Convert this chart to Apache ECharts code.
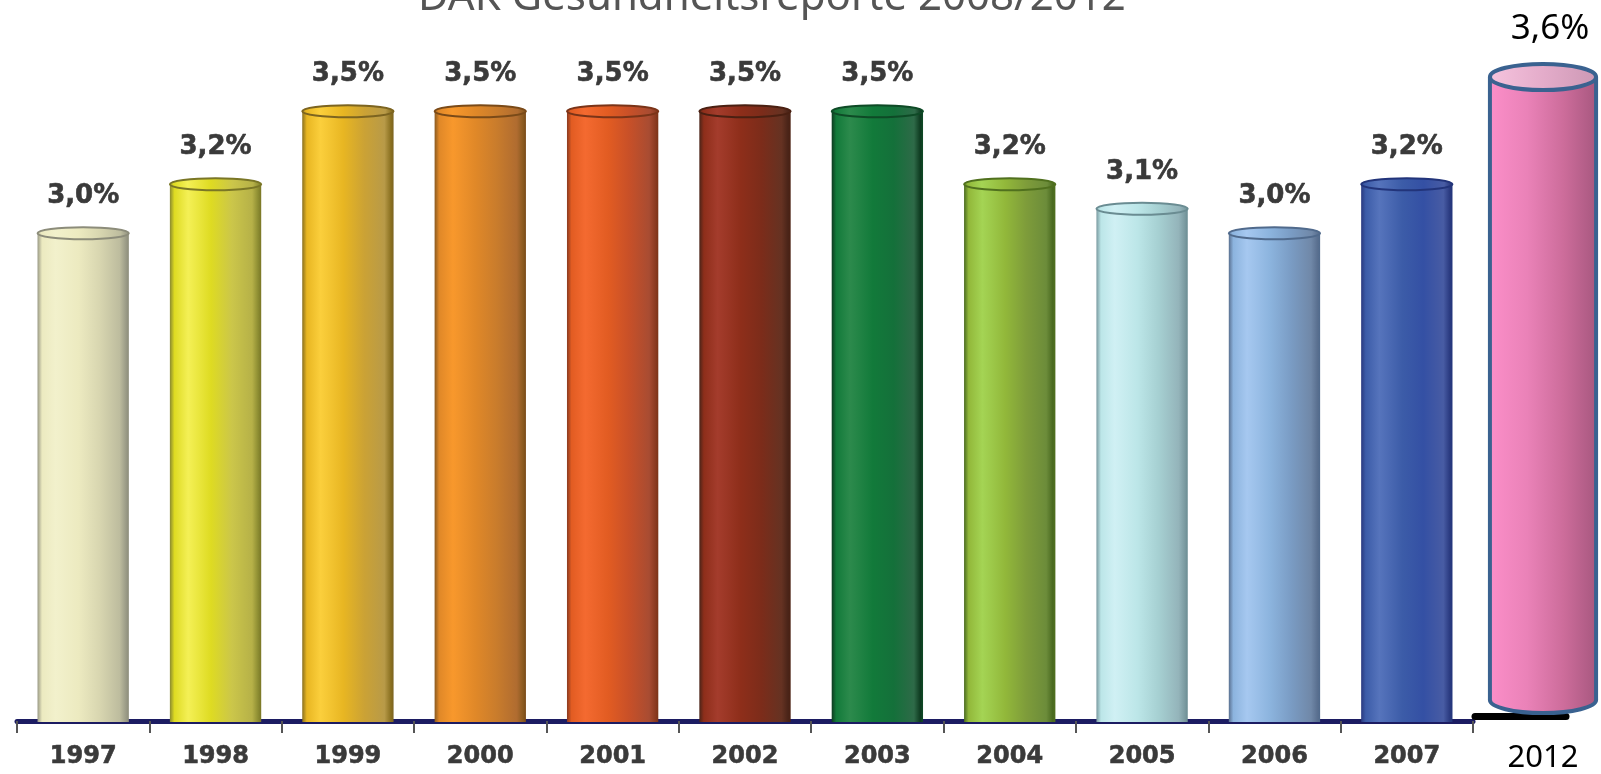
<!DOCTYPE html>
<html>
<head>
<meta charset="utf-8">
<script src="https://cdn.jsdelivr.net/npm/echarts@6/dist/echarts.min.js"></script>
<style>
html,body{margin:0;padding:0;background:#ffffff;}
#chart{width:1601px;height:774px;}
</style>
</head>
<body>
<div id="chart"></div>
<script>
// ---- data ----
const titleText = 'DAK Gesundheitsreporte 2008/2012';
const categories = ['1997','1998','1999','2000','2001','2002','2003','2004','2005','2006','2007'];
const values = [3.0, 3.2, 3.5, 3.5, 3.5, 3.5, 3.5, 3.2, 3.1, 3.0, 3.2];
const extraCategories = ['2012'];
const extraValues = [3.6];

// ---- styles ----
// each: [edge, light, main, mid, dark, rim]
const palettes = [
  ['#9a9a86','#f2f1cc','#eceac0','#d8d6b0','#bdbc9e','#8c8c7a'],
  ['#8a8a30','#f4f056','#dedb22','#cbc64a','#b6b148','#7a7626'],
  ['#8a7020','#fbcf3c','#e8b622','#cba235','#b89a48','#7c6420'],
  ['#8a5a20','#f8982c','#e08828','#c97c2c','#b06c30','#7a4a18'],
  ['#8a3a20','#f46a30','#e25c22','#c85028','#a84c32','#7a3418'],
  ['#4a2418','#a43c2c','#8e2e1a','#7c2c1a','#653222','#4a2012'],
  ['#0e3a20','#2c8a4c','#127a3a','#14703a','#2e6a48','#0e4a26'],
  ['#4a6a20','#a4d454','#92b83a','#7e9c3a','#6c8c3a','#50701e'],
  ['#7a9aa0','#d0f0f4','#bce6e8','#a6d0d2','#94b4ba','#6a8c92'],
  ['#5a7090','#a6c8f0','#8cb4de','#7a9cc4','#7088a8','#506a8c'],
  ['#2a3a80','#5674bc','#3c5ca8','#3450a4','#485ca4','#22347a']
];
const labelColor = '#3a3a3a';
const mainFont = '"DejaVu Sans", "Liberation Sans", Arial, sans-serif';
const officeFont = '"Noto Sans", "Open Sans", sans-serif';
const yMin = 1;

function fmt(v){ return v.toFixed(1).replace('.', ',') + '%'; }

function hGrad(p){
  return {type:'linear', x:0, y:0, x2:1, y2:0, colorStops:[
    {offset:0, color:p[0]},
    {offset:0.05, color:p[2]},
    {offset:0.2, color:p[1]},
    {offset:0.45, color:p[2]},
    {offset:0.68, color:p[3]},
    {offset:0.9, color:p[4]},
    {offset:0.97, color:p[0]},
    {offset:1, color:p[5]}
  ]};
}

function renderMain(params, api){
  const i = api.value(0), v = api.value(1);
  const top = api.coord([i, v]);
  const base = api.coord([i, yMin]);
  const w = api.size([1, 0])[0] * 0.69;
  const p = palettes[params.dataIndex];
  return {type:'group', children:[
    {type:'rect', shape:{x:top[0]-w/2, y:top[1], width:w, height:base[1]-top[1]+1},
      style:{fill:hGrad(p)}},
    {type:'ellipse', shape:{cx:top[0], cy:top[1], rx:w/2, ry:6},
      style:{fill:hGrad(p), stroke:p[5], lineWidth:2}},
    {type:'text', x:top[0], y:top[1]-37,
      style:{text:fmt(v), font:'bold 26px ' + mainFont, fill:labelColor, align:'center', verticalAlign:'middle',
        stroke:labelColor, lineWidth:0.6}}
  ]};
}

function renderExtra(params, api){
  const i = api.value(0), v = api.value(1);
  const top = api.coord([i, v]);
  const base = api.coord([i, yMin]);
  const w = api.size([1, 0])[0] * 0.965;
  const rx = w/2, ry = 13;
  const border = '#3a6290';
  const body = {type:'linear', x:0, y:0, x2:1, y2:0, colorStops:[
    {offset:0, color:'#fb8ec8'},{offset:0.35, color:'#ea82b8'},
    {offset:0.7, color:'#cc6c9a'},{offset:1, color:'#a85880'}]};
  const cap = {type:'linear', x:0, y:0, x2:1, y2:0, colorStops:[
    {offset:0, color:'#f6c4de'},{offset:0.5, color:'#e4acca'},{offset:1, color:'#cc98b4'}]};
  return {type:'group', children:[
    {type:'ellipse', shape:{cx:top[0], cy:base[1], rx:rx, ry:ry}, style:{fill:body, stroke:border, lineWidth:4}},
    {type:'rect', shape:{x:top[0]-rx, y:top[1], width:w, height:base[1]-top[1]}, style:{fill:body}},
    {type:'line', shape:{x1:top[0]-rx, y1:top[1], x2:top[0]-rx, y2:base[1]}, style:{stroke:border, lineWidth:4}},
    {type:'line', shape:{x1:top[0]+rx, y1:top[1], x2:top[0]+rx, y2:base[1]}, style:{stroke:border, lineWidth:4}},
    {type:'ellipse', shape:{cx:top[0], cy:top[1], rx:rx, ry:ry}, style:{fill:cap, stroke:border, lineWidth:4}},
    {type:'text', x:top[0]+7, y:top[1]-48,
      style:{text:fmt(v), font:'35px ' + officeFont, fill:'#000000', align:'center', verticalAlign:'middle'}}
  ]};
}

const chart = echarts.init(document.getElementById('chart'), null, {renderer:'canvas'});
chart.setOption({
  backgroundColor:'#ffffff',
  animation:false,
  title:{
    text:titleText, left:413, top:-28,
    textStyle:{fontFamily:officeFont, fontSize:42, fontWeight:'normal', color:'#555555'}
  },
  grid:[
    {left:17, right:128, top:38, bottom:53},
    {left:1488, right:3, top:77, bottom:73},
    {left:1475, right:35, top:600, bottom:58}
  ],
  xAxis:[
    {type:'category', gridIndex:0, data:categories,
      axisLine:{lineStyle:{color:'#1c1c62', width:5}},
      axisTick:{show:true, length:12, lineStyle:{color:'#555555', width:2}},
      axisLabel:{fontFamily:mainFont, fontWeight:'bold', fontSize:24, color:labelColor, margin:24,
        textBorderColor:labelColor, textBorderWidth:0.6}},
    {type:'category', gridIndex:1, data:extraCategories,
      axisLine:{show:false}, axisTick:{show:false},
      axisLabel:{fontFamily:officeFont, fontSize:31, color:'#000000', margin:43}},
    {type:'category', gridIndex:2, data:[''],
      axisLine:{lineStyle:{color:'#000000', width:7}}, axisTick:{show:false}, axisLabel:{show:false}}
  ],
  yAxis:[
    {type:'value', gridIndex:0, min:yMin, max:3.8, show:false, splitLine:{show:false}},
    {type:'value', gridIndex:1, min:yMin, max:3.6, show:false, splitLine:{show:false}},
    {type:'value', gridIndex:2, min:0, max:1, show:false, splitLine:{show:false}}
  ],
  series:[
    {type:'custom', xAxisIndex:0, yAxisIndex:0, renderItem:renderMain,
      encode:{x:0, y:1}, data:values.map((v,i)=>[i, v])},
    {type:'custom', xAxisIndex:1, yAxisIndex:1, renderItem:renderExtra,
      encode:{x:0, y:1}, data:extraValues.map((v,i)=>[i, v])}
  ]
});
</script>
</body>
</html>
